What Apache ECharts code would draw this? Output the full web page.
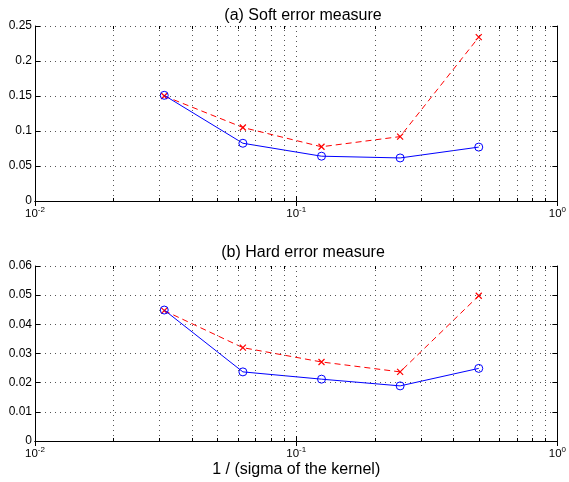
<!DOCTYPE html>
<html>
<head>
<meta charset="utf-8">
<script src="https://cdn.jsdelivr.net/npm/echarts@6/dist/echarts.min.js"></script>
<style>
  html, body { margin: 0; padding: 0; background: #fff; }
  #chart { width: 569px; height: 482px; }
</style>
</head>
<body>
<div id="chart"></div>
<script>
// 1 / sigma values
var xValues = [0.03125, 0.0625, 0.125, 0.25, 0.5];
// (a) soft error
var softBlue = [0.151, 0.0825, 0.064, 0.0615, 0.077];
var softRed = [0.150, 0.105, 0.0775, 0.092, 0.234];
// (b) hard error
var hardBlue = [0.0449, 0.0237, 0.0212, 0.0189, 0.0249];
var hardRed = [0.0447, 0.0320, 0.0271, 0.0237, 0.0498];
// minor grid / tick positions on the log axis
var minorX = [0.02, 0.03, 0.04, 0.05, 0.06, 0.07, 0.08, 0.09,
              0.2, 0.3, 0.4, 0.5, 0.6, 0.7, 0.8, 0.9];

var font = 'Liberation Sans, Arial, sans-serif';
var dotted = { color: '#555', type: [1, 4], width: 1 };
var plotH = 175;

function pairs(ys) {
    return xValues.map(function (x, i) { return [x, ys[i]]; });
}

function xAxisFor(gridIndex, name) {
    return [{
        type: 'log', gridIndex: gridIndex, logBase: 10, min: 0.01, max: 1,
        position: 'bottom',
        axisLine: { lineStyle: { color: '#000' } },
        axisTick: { inside: true, length: 5, lineStyle: { color: '#000' } },
        axisLabel: {
            color: '#000', margin: 5,
            formatter: function (v) {
                var e = Math.round(Math.log(v) / Math.LN10);
                return '{b|10}{s|' + e + '}';
            },
            rich: {
                b: { fontSize: 11.5, fontFamily: font, color: '#000' },
                s: { fontSize: 8, fontFamily: font, color: '#000', verticalAlign: 'bottom', padding: [0, 0, 7, 0] }
            }
        },
        splitLine: { show: true, lineStyle: dotted },
        name: name, nameLocation: 'middle', nameGap: 21,
        nameTextStyle: { fontSize: 16, fontFamily: font, color: '#000' }
    }, {
        type: 'log', gridIndex: gridIndex, logBase: 10, min: 0.01, max: 1,
        position: 'top',
        axisLine: { lineStyle: { color: '#000' } },
        axisTick: { inside: true, length: 5, lineStyle: { color: '#000' } },
        axisLabel: { show: false },
        splitLine: { show: false }
    }];
}

function yAxisFor(gridIndex, max, interval) {
    return [{
        type: 'value', gridIndex: gridIndex, min: 0, max: max, interval: interval,
        position: 'left',
        axisLine: { show: true, lineStyle: { color: '#000' } },
        axisTick: { show: true, inside: true, length: 5, lineStyle: { color: '#000' } },
        axisLabel: { color: '#000', fontSize: 12, fontFamily: font, margin: 3 },
        splitLine: { show: true, lineStyle: dotted }
    }, {
        type: 'value', gridIndex: gridIndex, min: 0, max: max, interval: interval,
        position: 'right',
        axisLine: { show: true, lineStyle: { color: '#000' } },
        axisTick: { show: true, inside: true, length: 5, lineStyle: { color: '#000' } },
        axisLabel: { show: false },
        splitLine: { show: false }
    }];
}

var crossPath = 'path://M0,0L10,10M10,0L0,10';

function seriesFor(idx, blue, red, ymax) {
    var t = ymax * 3 / plotH;
    var grid = minorX.map(function (v) { return { xAxis: v }; });
    var ticks = [];
    minorX.forEach(function (v) {
        ticks.push([{ coord: [v, 0] }, { coord: [v, t] }]);
        ticks.push([{ coord: [v, ymax] }, { coord: [v, ymax - t] }]);
    });
    return [{
        type: 'line', xAxisIndex: idx * 2, yAxisIndex: idx * 2,
        data: [], silent: true,
        markLine: {
            silent: true, symbol: 'none', animation: false,
            label: { show: false },
            lineStyle: dotted,
            data: grid
        }
    }, {
        type: 'line', xAxisIndex: idx * 2, yAxisIndex: idx * 2,
        data: [], silent: true,
        markLine: {
            silent: true, symbol: 'none', animation: false,
            label: { show: false },
            lineStyle: { color: '#000', type: 'solid', width: 1 },
            data: ticks
        }
    }, {
        type: 'line', xAxisIndex: idx * 2, yAxisIndex: idx * 2,
        data: pairs(red), symbol: crossPath, symbolSize: 6,
        lineStyle: { color: '#ff0000', width: 1, type: [6, 4] },
        itemStyle: { color: '#ff0000', borderColor: '#ff0000', borderWidth: 1.2 },
        z: 3
    }, {
        type: 'line', xAxisIndex: idx * 2, yAxisIndex: idx * 2,
        data: pairs(blue), symbol: 'circle', symbolSize: 8,
        lineStyle: { color: '#0000ff', width: 1 },
        itemStyle: { color: 'transparent', borderColor: '#0000ff', borderWidth: 1 },
        z: 4
    }];
}

var option = {
    animation: false,
    backgroundColor: '#fff',
    title: [{
        text: '(a) Soft error measure', left: 298, top: 3, textAlign: 'center',
        textStyle: { fontSize: 16, fontWeight: 'normal', fontFamily: font, color: '#000' }
    }, {
        text: '(b) Hard error measure', left: 298, top: 240, textAlign: 'center',
        textStyle: { fontSize: 16, fontWeight: 'normal', fontFamily: font, color: '#000' }
    }],
    grid: [
        { left: 35, top: 26, width: 526, height: plotH },
        { left: 35, top: 266, width: 526, height: plotH }
    ],
    xAxis: xAxisFor(0, '').concat(xAxisFor(1, '1 / (sigma of the kernel)')),
    yAxis: yAxisFor(0, 0.25, 0.05).concat(yAxisFor(1, 0.06, 0.01)),
    series: seriesFor(0, softBlue, softRed, 0.25).concat(seriesFor(1, hardBlue, hardRed, 0.06))
};

var myChart = echarts.init(document.getElementById('chart'));
myChart.setOption(option, true);
</script>
</body>
</html>
